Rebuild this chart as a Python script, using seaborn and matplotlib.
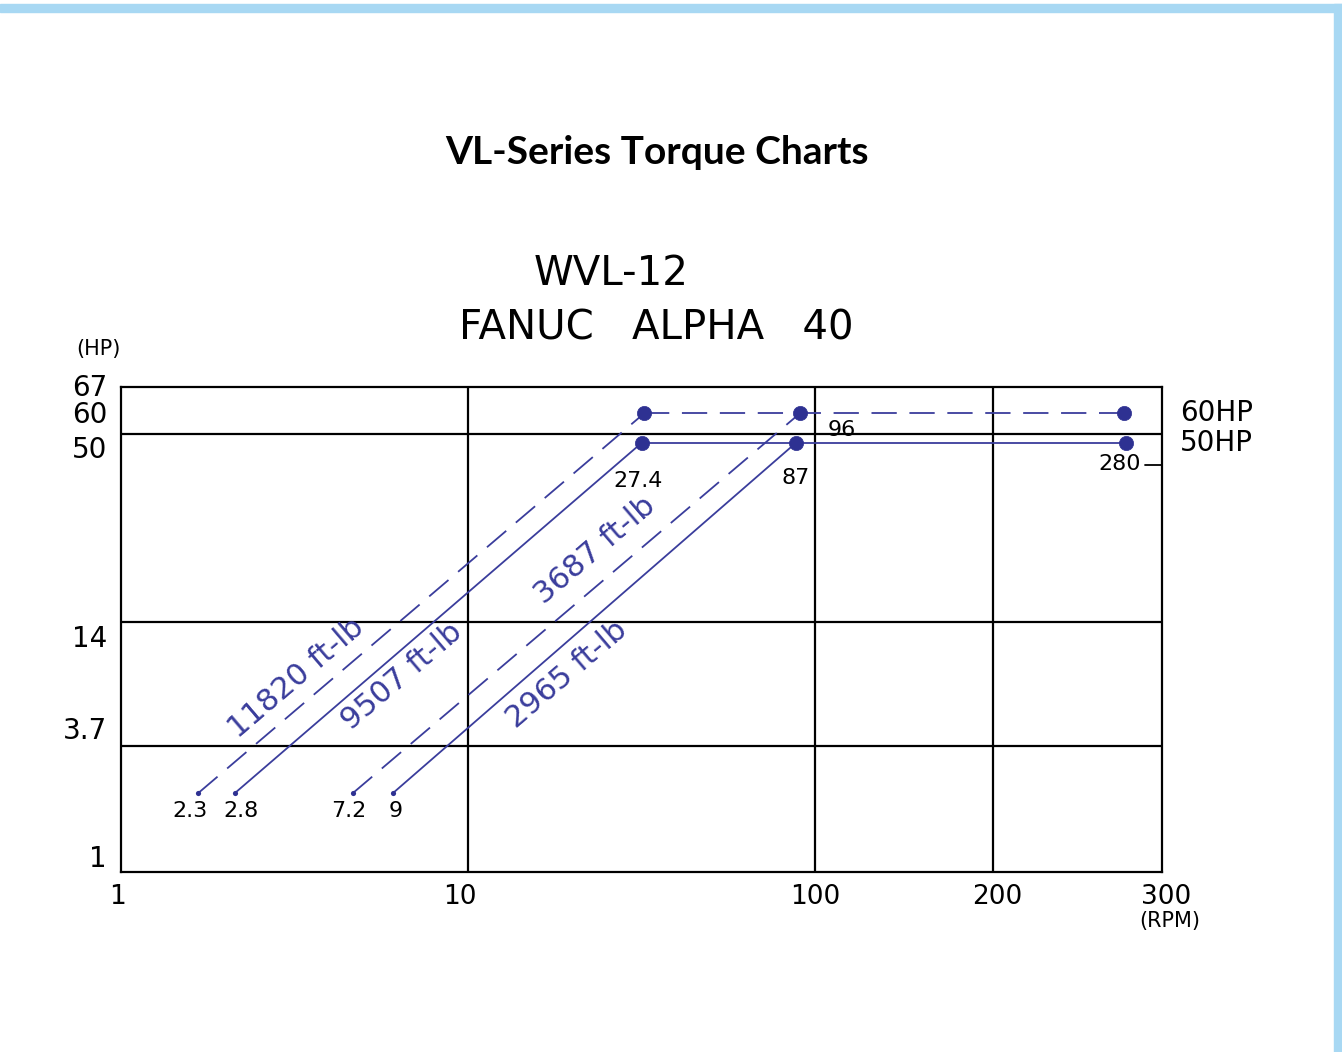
import numpy as np
import pandas as pd
import seaborn as sns
import matplotlib
matplotlib.use("Agg")
import matplotlib.pyplot as plt
from matplotlib import transforms
from matplotlib.patches import Rectangle
from matplotlib.ticker import NullLocator

# ---- data ----
curve_rating = ['60HP', '60HP', '50HP', '50HP']
torque_labels = ['11820 ft-lb', '3687 ft-lb', '9507 ft-lb', '2965 ft-lb']
start_rpm = [1.67, 4.66, 2.13, 6.08]
start_hp = [2.27, 2.27, 2.27, 2.27]
corner_rpm = [32.2, 90.5, 31.7, 88.2]
corner_hp = [60, 60, 50, 50]
start_labels = ['2.3', '7.2', '2.8', '9']
corner_labels = ['', '96', '27.4', '87']

rating_names = ['60HP', '50HP']
rating_hp = [60, 50]
rating_end_rpm = [274, 275]
rating_end_labels = ['', '280']

rpm_ticks = [1, 10, 100, 200, 300]
rpm_grid = [10, 100, 200]
hp_ticks = [1, 3.7, 14, 50, 60, 67]
hp_grid = [3.7, 14]

# ---- schematic (non uniform) axis scales, positions in pixels ----
x_anchor_pos = [0, 347, 694, 872, 1041]
y_anchor_pos = [0, 126, 250, 429.3, 458.7, 485]


def make_scale(vals, pos):
    lv = np.log10(np.asarray(vals, float))
    pos = np.asarray(pos, float)
    s0 = (pos[1] - pos[0]) / (lv[1] - lv[0])
    s1 = (pos[-1] - pos[-2]) / (lv[-1] - lv[-2])

    def fwd(v):
        l = np.log10(np.clip(np.asarray(v, float), 1e-9, None))
        out = np.interp(l, lv, pos)
        lo = pos[0] + (l - lv[0]) * s0
        hi = pos[-1] + (l - lv[-1]) * s1
        return np.where(l < lv[0], lo, np.where(l > lv[-1], hi, out))

    def inv(p):
        p = np.asarray(p, float)
        l = np.interp(p, pos, lv)
        lo = lv[0] + (p - pos[0]) / s0
        hi = lv[-1] + (p - pos[-1]) / s1
        l = np.where(p < pos[0], lo, np.where(p > pos[-1], hi, l))
        return 10 ** l

    return fwd, inv


# ---- tables for seaborn ----
rows = []
for i in range(len(curve_rating)):
    rows.append(dict(curve=f't{i}', rating=curve_rating[i], rpm=start_rpm[i], hp=start_hp[i]))
    rows.append(dict(curve=f't{i}', rating=curve_rating[i], rpm=corner_rpm[i], hp=corner_hp[i]))
for name, hp, end in zip(rating_names, rating_hp, rating_end_rpm):
    first = min(r for r, c in zip(corner_rpm, curve_rating) if c == name)
    rows.append(dict(curve=f'h{name}', rating=name, rpm=first, hp=hp))
    rows.append(dict(curve=f'h{name}', rating=name, rpm=end, hp=hp))
lines = pd.DataFrame(rows)

big_dots = pd.DataFrame({
    'rpm': corner_rpm + rating_end_rpm,
    'hp': corner_hp + rating_hp,
})
small_dots = pd.DataFrame({'rpm': start_rpm, 'hp': start_hp})

blue = '#3a3d9c'
dot_blue = '#2e3192'

sns.set_style('white')
plt.rcParams['font.family'] = ['DejaVu Sans']
plt.rcParams['text.color'] = 'black'

fig = plt.figure(figsize=(13.42, 10.52), dpi=100)
ax = fig.add_axes([121 / 1342, 1 - 872 / 1052, 1041 / 1342, 485 / 1052])

xf, xi = make_scale(rpm_ticks, x_anchor_pos)
yf, yi = make_scale(hp_ticks, y_anchor_pos)
ax.set_xscale('function', functions=(xf, xi))
ax.set_yscale('function', functions=(yf, yi))

sns.lineplot(data=lines, x='rpm', y='hp', units='curve', estimator=None, sort=False,
             style='rating', dashes={'60HP': (14, 7), '50HP': ''}, color=blue,
             lw=1.3, legend=False, ax=ax, zorder=3)
sns.scatterplot(data=big_dots, x='rpm', y='hp', color=dot_blue, s=105, marker='o',
                edgecolor=dot_blue, linewidth=0.5, ax=ax, zorder=4, clip_on=False)
sns.scatterplot(data=small_dots, x='rpm', y='hp', color=dot_blue, s=14, marker='o',
                edgecolor=dot_blue, linewidth=0, ax=ax, zorder=4)

ax.set_xlim(rpm_ticks[0], rpm_ticks[-1])
ax.set_ylim(hp_ticks[0], hp_ticks[-1])

# grid
for r in rpm_grid:
    ax.axvline(r, color='black', lw=1.6, zorder=2)
for h in hp_grid:
    ax.axhline(h, color='black', lw=1.6, zorder=2)
ax.plot([0, 1], [0.903, 0.903], transform=ax.transAxes, color='black', lw=1.6, zorder=2)

for sp in ax.spines.values():
    sp.set_color('black')
    sp.set_linewidth(1.6)

# ticks
ax.set_xticks(rpm_ticks)
ax.set_xticklabels([str(t) for t in rpm_ticks])
ax.set_yticks(hp_ticks)
ax.set_yticklabels([f'{t:g}' for t in hp_ticks])
ax.xaxis.set_minor_locator(NullLocator())
ax.yaxis.set_minor_locator(NullLocator())
ax.tick_params(axis='both', length=0, colors='black')
ax.tick_params(axis='y', labelsize=20, pad=10)
ax.tick_params(axis='x', labelsize=19, pad=9)
ax.set_xlabel('')
ax.set_ylabel('')

y_label_shift = [16, 18, -14, -4, 1, 2]
for lab, dy in zip(ax.get_yticklabels(), y_label_shift):
    lab.set_transform(lab.get_transform() + transforms.ScaledTranslation(0, dy / 100, fig.dpi_scale_trans))
x_label_shift = [-3, -8, 0, 4, 4]
for lab, dx in zip(ax.get_xticklabels(), x_label_shift):
    lab.set_transform(lab.get_transform() + transforms.ScaledTranslation(dx / 100, 0, fig.dpi_scale_trans))

# value labels at the points
start_off = [(-8, -18), (-4, -18), (6, -18), (3, -18)]
corner_off = [(0, 0), (42, -17), (-4, -38), (0, -35)]
for i in range(len(start_rpm)):
    ax.annotate(start_labels[i], (start_rpm[i], start_hp[i]), xytext=start_off[i],
                textcoords='offset pixels', ha='center', va='center', fontsize=16, color='black')
    if corner_labels[i]:
        ax.annotate(corner_labels[i], (corner_rpm[i], corner_hp[i]), xytext=corner_off[i],
                    textcoords='offset pixels', ha='center', va='center', fontsize=16, color='black')
for lab, end, hp in zip(rating_end_labels, rating_end_rpm, rating_hp):
    if lab:
        ax.annotate(lab, (end, hp), xytext=(-6, -21), textcoords='offset pixels',
                    ha='center', va='center', fontsize=16, color='black')
ax.plot([0.9837, 1.0], [0.839, 0.839], transform=ax.transAxes, color='black', lw=1.3, clip_on=False)

# rating labels on the right
blend = transforms.blended_transform_factory(ax.transAxes, ax.transData)
for name, hp in zip(rating_names, rating_hp):
    ax.text(1.017, hp, name, transform=blend, ha='left', va='center', fontsize=20,
            color='black', clip_on=False)

# torque labels along the lines
torque_pos = [(0.168, 0.400), (0.455, 0.664), (0.270, 0.404), (0.428, 0.408)]
for lab, (fx, fy) in zip(torque_labels, torque_pos):
    ax.text(fx, fy, lab, transform=ax.transAxes, rotation=40.5, rotation_mode='anchor',
            ha='center', va='center', fontsize=22, color=blue)

# titles and unit labels
fig.text(0.4896, 1 - 152 / 1052, 'VL-Series Torque Charts', ha='center', va='center',
         fontsize=28, fontweight='bold', family=['Lato', 'DejaVu Sans'], color='black')
fig.text(611 / 1342, 1 - 274 / 1052, 'WVL-12', ha='center', va='center', fontsize=29, color='black')
fig.text(656 / 1342, 1 - 329 / 1052, 'FANUC   ALPHA   40', ha='center', va='center', fontsize=29,
         color='black')
fig.text(98 / 1342, 1 - 349 / 1052, '(HP)', ha='center', va='center', fontsize=15, color='black')
fig.text(1170 / 1342, 1 - 921 / 1052, '(RPM)', ha='center', va='center', fontsize=15, color='black')

# page frame
frame = '#a8d8f3'
fig.patches.append(Rectangle((0, 1 - 12 / 1052), 1, 8 / 1052, transform=fig.transFigure,
                             color=frame, zorder=0))
fig.patches.append(Rectangle((1334 / 1342, 0), 8 / 1342, 1 - 4 / 1052, transform=fig.transFigure,
                             color=frame, zorder=0))

fig.savefig('out.png', dpi=100)
